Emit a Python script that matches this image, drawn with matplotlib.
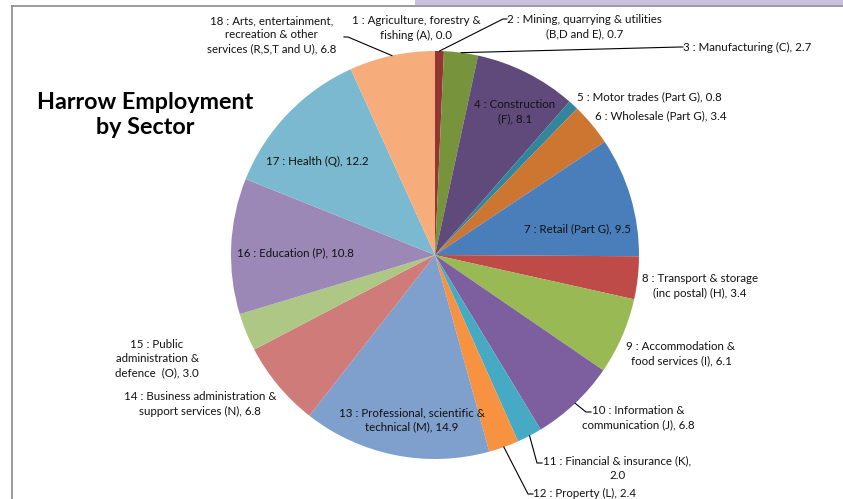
import matplotlib
matplotlib.use("Agg")
import matplotlib.pyplot as plt
import numpy as np
from matplotlib.patches import Rectangle
from matplotlib.lines import Line2D

# ---------------- data ----------------
sectors = [
    "1 : Agriculture, forestry &\nfishing (A)",
    "2 : Mining, quarrying & utilities\n(B,D and E)",
    "3 : Manufacturing (C)",
    "4 : Construction\n(F)",
    "5 : Motor trades (Part G)",
    "6 : Wholesale (Part G)",
    "7 : Retail (Part G)",
    "8 : Transport & storage\n(inc postal) (H)",
    "9 : Accommodation &\nfood services (I)",
    "10 : Information &\ncommunication (J)",
    "11 : Financial & insurance (K),\n",
    "12 : Property (L), ",
    "13 : Professional, scientific &\ntechnical (M)",
    "14 : Business administration &\nsupport services (N)",
    "15 : Public\nadministration &\ndefence  (O)",
    "16 : Education (P)",
    "17 : Health (Q)",
    "18 : Arts, entertainment,\nrecreation & other\nservices (R,S,T and U)",
]
values = [0.0, 0.7, 2.7, 8.1, 0.8, 3.4, 9.5, 3.4, 6.1, 6.8, 2.0, 2.4, 14.9, 6.8, 3.0, 10.8, 12.2, 6.8]
title = "Harrow Employment\nby Sector"

colors = ["#385D8A", "#923634", "#77933C", "#604A7B", "#31859C", "#CC7632",
          "#4A7EBB", "#BE4B48", "#98B954", "#7D5F9F", "#46AAC5", "#F69240",
          "#7F9FCC", "#CE7B79", "#AEC784", "#9C88B7", "#7AB9CF", "#F7AD7B"]

# ---------------- layout ----------------
W, H = 843, 499
CX, CY, R = 435, 255, 204

plt.rcParams['font.family'] = ['Lato', 'DejaVu Sans']
fig = plt.figure(figsize=(W / 100, H / 100), dpi=100)
fig.patch.set_facecolor("white")

ax = fig.add_axes([(CX - R) / W, (H - CY - R) / H, 2 * R / W, 2 * R / H])
wedges, _ = ax.pie(values, colors=colors, startangle=90, counterclock=False,
                   radius=1.0, wedgeprops=dict(linewidth=0))
ax.set_xlim(-1, 1)
ax.set_ylim(-1, 1)
ax.set_aspect("auto")
ax.axis("off")


def p2d(px, py):
    return ((px - CX) / R, (CY - py) / R)


def edge_point(w, r=1.0):
    ang = np.deg2rad((w.theta1 + w.theta2) / 2)
    return (r * np.cos(ang), r * np.sin(ang))


# label anchor positions (pixel), horizontal alignment, leader-line elbow (pixel) or None
label_layout = [
    ((416, 28), "center", None),
    ((507, 27), "left", ((503, 19), (507, 19))),
    ((683, 47), "left", ((680, 47), (683, 47))),
    ((515, 112), "center", None),
    ((577, 97), "left", None),
    ((595, 116), "left", None),
    ((577, 229), "center", None),
    ((700, 286), "center", None),
    ((681, 354), "center", None),
    ((582, 418), "left", ((586, 412), (591, 412))),
    ((543, 468), "left", ((537, 463), (542, 463))),
    ((533, 493), "left", ((528, 494), (533, 494))),
    ((412, 420), "center", None),
    ((200, 404), "center", None),
    ((157, 359), "center", None),
    ((295, 253), "center", None),
    ((317, 161), "center", None),
    ((336, 35), "right", ((348, 37), (344, 37))),
]

for i, (w, name, v) in enumerate(zip(wedges, sectors, values)):
    (px, py), ha, leader = label_layout[i]
    txt = f"{name}{v:.1f}" if name.endswith(("\n", " ")) else f"{name}, {v:.1f}"
    x, y = p2d(px, py)
    ax.text(x, y, txt, ha=ha, va="center", fontsize=8.3, color="#111111",
            linespacing=1.35, clip_on=False, multialignment="center")
    if leader is not None:
        e = edge_point(w)
        pts = [e] + [p2d(*p) for p in leader]
        xs, ys = zip(*pts)
        ax.add_line(Line2D(xs, ys, color="#000000", lw=0.8, clip_on=False))

# title
fig.text(145 / W, 1 - 115 / H, title, ha="center", va="center", fontsize=16.8,
         fontweight="bold", color="#000000", linespacing=1.2)

# frame / decorations
fig.add_artist(Rectangle((415 / W, 1 - 5 / H), 1, 5 / H, transform=fig.transFigure,
                         facecolor="#C9C2DF", edgecolor="none"))
fig.add_artist(Line2D([12 / W, 1], [1 - 6 / H, 1 - 6 / H], transform=fig.transFigure,
                      color="#8a8a8a", lw=1.2))
fig.add_artist(Line2D([12 / W, 12 / W], [0, 1 - 6 / H], transform=fig.transFigure,
                      color="#8a8a8a", lw=1.2))

fig.savefig("out.png", dpi=100, facecolor="white")
